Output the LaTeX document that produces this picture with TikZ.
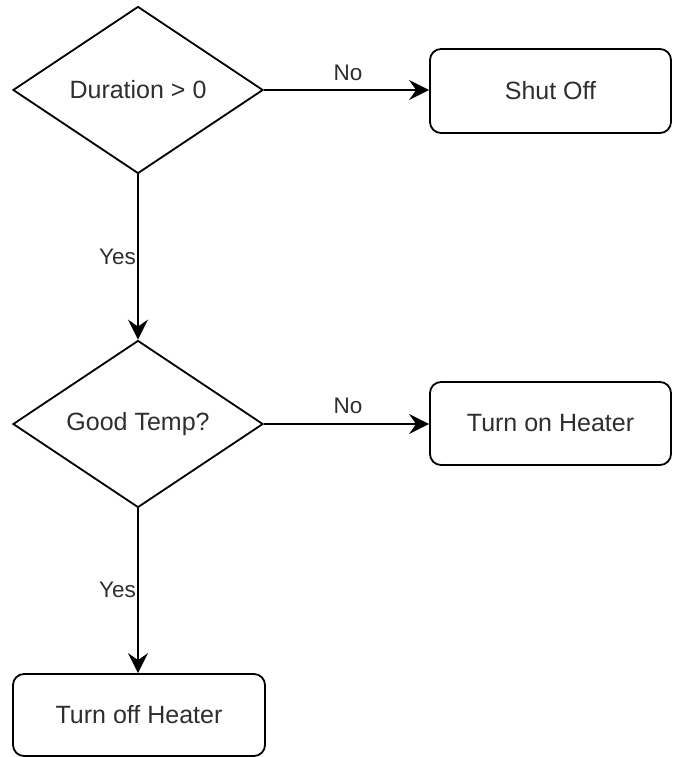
\documentclass[tikz,border=0pt]{standalone}
\usepackage{fontspec}
\setmainfont{Liberation Sans}
\usetikzlibrary{shapes.geometric,arrows.meta}
\definecolor{txt}{HTML}{2E2E2E}
\tikzset{
  x=1pt,y=1pt,
  decision/.style={draw=black,line width=1.8pt,shape=diamond,inner sep=0pt,aspect=1.5,
    minimum width=250pt,minimum height=167pt,text=txt,font=\fontsize{25}{29}\selectfont},
  actbox/.style={draw=black,line width=1.8pt,rectangle,rounded corners=11pt,inner sep=0pt,
    text=txt,font=\fontsize{25}{29}\selectfont},
  flow/.style={line width=1.8pt,-{Stealth[length=20pt,width=20pt,inset=7pt]}},
  elabel/.style={text=txt,font=\fontsize{22.5}{27}\selectfont,inner sep=1pt}
}
\begin{document}
\begin{tikzpicture}
\useasboundingbox (0,0) rectangle (673,-757);
\node[decision] (d1) at (138,-90) {Duration > 0};
\node[decision] (d2) at (138,-424) {Good Temp?};
\node[actbox,minimum width=241pt,minimum height=84pt] (s1) at (550.5,-91) {Shut Off};
\node[actbox,minimum width=241pt,minimum height=83pt] (s2) at (550.5,-423.5) {Turn on Heater};
\node[actbox,minimum width=252pt,minimum height=82pt] (s3) at (139,-715) {Turn off Heater};
\draw[flow] (d1.east) -- (s1.west |- d1.east);
\draw[flow] (d2.east) -- (s2.west |- d2.east);
\draw[flow] (d1.south) -- (d2.north);
\draw[flow] (d2.south) -- (s3.north -| d2.south);
\node[elabel] (n1) at (348,-73) {No};
\node[elabel] (n2) at (348,-406) {No};
\node[elabel,anchor=east] (y1) at (137,-257) {Yes};
\node[elabel,anchor=east] (y2) at (137,-590) {Yes};
\end{tikzpicture}
\end{document}
